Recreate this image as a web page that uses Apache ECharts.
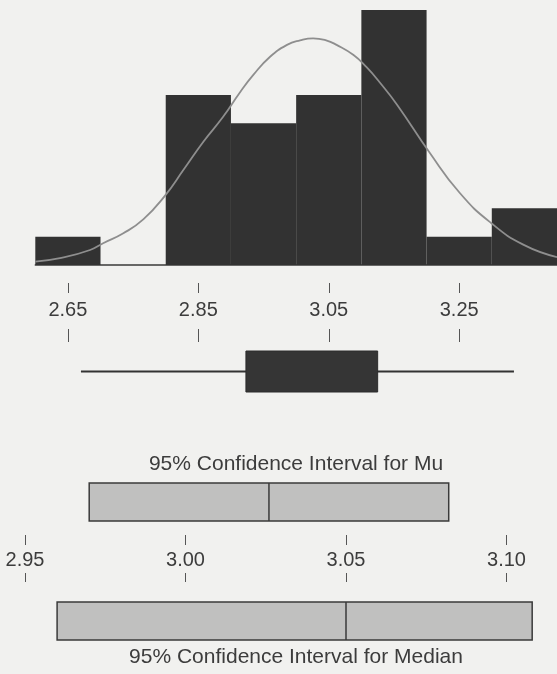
<!DOCTYPE html>
<html>
<head>
<meta charset="utf-8">
<script src="https://cdn.jsdelivr.net/npm/echarts@6/dist/echarts.min.js"></script>
<style>
  html, body { margin: 0; padding: 0; background: #f1f1ef; }
  #summary { width: 557px; height: 674px; }
</style>
</head>
<body>
<section id="summary"></section>
<script>
// histogram bins and counts
var binStarts = [2.6, 2.7, 2.8, 2.9, 3.0, 3.1, 3.2, 3.3]
var binEnds = [2.7, 2.8, 2.9, 3.0, 3.1, 3.2, 3.3, 3.4]
var binCounts = [1, 0, 6, 5, 6, 9, 1, 2]

// fitted normal curve
var curveX = [2.60, 2.64, 2.684, 2.704, 2.735, 2.766, 2.799, 2.827, 2.858, 2.888, 2.914, 2.934, 2.960, 2.986, 3.006, 3.026, 3.046, 3.062, 3.088, 3.108, 3.128, 3.155, 3.204, 3.251, 3.299, 3.349, 3.40]
var curveY = [0.12, 0.25, 0.53, 0.77, 1.12, 1.62, 2.45, 3.35, 4.36, 5.23, 6.10, 6.70, 7.35, 7.77, 7.93, 8.0, 7.93, 7.77, 7.41, 6.98, 6.45, 5.65, 3.99, 2.54, 1.48, 0.71, 0.28]

// boxplot: min, q1, median, q3, max
var boxStats = [2.670, 2.923, 3.050, 3.125, 3.334]

// confidence intervals: low, centre, high
var muCI = [2.970, 3.026, 3.082]
var medianCI = [2.960, 3.050, 3.108]

var topTicks = [2.65, 2.85, 3.05, 3.25]
var ciTicks = [2.95, 3.00, 3.05, 3.10]

var font = "'Liberation Sans', Arial, sans-serif"
var textColor = '#3c3c3c'

function fmt (v) {
  return Number(v).toFixed(2)
}

function renderBin (params, api) {
  var p0 = api.coord([api.value(0), api.value(2)])
  var p1 = api.coord([api.value(1), 0])
  return {
    type: 'rect',
    shape: { x: p0[0], y: p0[1], width: p1[0] - p0[0], height: p1[1] - p0[1] },
    style: { fill: '#323232' }
  }
}

function renderBox (params, api) {
  var lo = api.coord([api.value(0), 0])
  var q1 = api.coord([api.value(1), 1])
  var q3 = api.coord([api.value(3), 0])
  var hi = api.coord([api.value(4), 0])
  var mid = (lo[1] + q1[1]) / 2
  return {
    type: 'group',
    children: [
      { type: 'line', shape: { x1: lo[0], y1: mid, x2: hi[0], y2: mid }, style: { stroke: '#333', lineWidth: 2 } },
      { type: 'rect', shape: { x: q1[0], y: q1[1], width: q3[0] - q1[0], height: q3[1] - q1[1] }, style: { fill: '#353535', stroke: '#2c2c2c', lineWidth: 1 } }
    ]
  }
}

function renderCI (params, api) {
  var a = api.coord([api.value(0), 1])
  var c = api.coord([api.value(1), 0])
  var b = api.coord([api.value(2), 0])
  return {
    type: 'group',
    children: [
      { type: 'rect', shape: { x: a[0], y: a[1], width: b[0] - a[0], height: b[1] - a[1] }, style: { fill: '#c0c0bf', stroke: '#3a3a3a', lineWidth: 1.5 } },
      { type: 'line', shape: { x1: c[0], y1: a[1], x2: c[0], y2: b[1] }, style: { stroke: '#3a3a3a', lineWidth: 1.5 } }
    ]
  }
}

// axis used only for its ticks (and optionally labels); ticks point away from the grid
function tickAxis (grid, pos, ticks, len, min, max, withLabels, margin) {
  return {
    type: 'value',
    gridIndex: grid,
    position: pos,
    min: min,
    max: max,
    axisLine: { show: false, onZero: false },
    splitLine: { show: false },
    axisTick: { show: true, length: len, customValues: ticks, lineStyle: { color: '#555', width: 1 } },
    axisLabel: {
      show: withLabels,
      customValues: ticks,
      margin: margin,
      verticalAlign: 'middle',
      formatter: fmt,
      fontSize: 20,
      fontFamily: font,
      color: textColor
    }
  }
}

function hiddenY (grid, max) {
  return { type: 'value', gridIndex: grid, min: 0, max: max, show: false }
}

var chart = echarts.init(document.getElementById('summary'))

var histData = binStarts.map(function (s, i) {
  return [s, binEnds[i], binCounts[i]]
})
var curveData = curveX.map(function (x, i) {
  return [x, curveY[i]]
})

var option = {
  backgroundColor: '#f1f1ef',
  animation: false,
  title: [
    {
      text: '95% Confidence Interval for Mu',
      left: 296, top: 464, padding: 0,
      textAlign: 'center', textVerticalAlign: 'middle',
      textStyle: { fontSize: 21, fontWeight: 'normal', fontFamily: font, color: textColor }
    },
    {
      text: '95% Confidence Interval for Median',
      left: 296, top: 657, padding: 0,
      textAlign: 'center', textVerticalAlign: 'middle',
      textStyle: { fontSize: 21, fontWeight: 'normal', fontFamily: font, color: textColor }
    }
  ],
  grid: [
    { left: 35.3, right: 0, top: 10, height: 255 },
    { left: 35.3, right: 0, top: 270, height: 13 },
    { left: 35.3, right: 0, top: 342, height: 9 },
    { left: 35.3, right: 0, top: 351, height: 41 },
    { left: 25, right: 18.4, top: 483, height: 38 },
    { left: 25, right: 18.4, top: 525, height: 10 },
    { left: 25, right: 18.4, top: 582, height: 20 },
    { left: 25, right: 18.4, top: 602, height: 38 }
  ],
  xAxis: [
    {
      type: 'value', gridIndex: 0, min: 2.6, max: 3.4,
      axisLine: { show: true, onZero: false, lineStyle: { color: '#3a3a3a', width: 1.5 } },
      axisTick: { show: false }, axisLabel: { show: false }, splitLine: { show: false }
    },
    tickAxis(1, 'bottom', topTicks, 10, 2.6, 3.4, true, 27),
    tickAxis(2, 'top', topTicks, 13, 2.6, 3.4, false, 0),
    { type: 'value', gridIndex: 3, min: 2.6, max: 3.4, show: false },
    { type: 'value', gridIndex: 4, min: 2.95, max: 3.11, show: false },
    tickAxis(5, 'bottom', ciTicks, 10, 2.95, 3.11, true, 25),
    tickAxis(6, 'top', ciTicks, 9, 2.95, 3.11, false, 0),
    { type: 'value', gridIndex: 7, min: 2.95, max: 3.11, show: false }
  ],
  yAxis: [
    hiddenY(0, 9),
    hiddenY(1, 1),
    hiddenY(2, 1),
    hiddenY(3, 1),
    hiddenY(4, 1),
    hiddenY(5, 1),
    hiddenY(6, 1),
    hiddenY(7, 1)
  ],
  series: [
    {
      name: 'histogram',
      type: 'custom',
      xAxisIndex: 0,
      yAxisIndex: 0,
      renderItem: renderBin,
      encode: { x: [0, 1], y: 2 },
      data: histData,
      z: 2
    },
    {
      name: 'normal',
      type: 'line',
      xAxisIndex: 0,
      yAxisIndex: 0,
      smooth: 0.5,
      showSymbol: false,
      lineStyle: { color: '#8e8e8e', width: 1.8 },
      data: curveData,
      z: 3
    },
    {
      name: 'boxplot',
      type: 'custom',
      xAxisIndex: 3,
      yAxisIndex: 3,
      renderItem: renderBox,
      encode: { x: [0, 1, 2, 3, 4] },
      data: [boxStats]
    },
    {
      name: 'ci mu',
      type: 'custom',
      xAxisIndex: 4,
      yAxisIndex: 4,
      renderItem: renderCI,
      encode: { x: [0, 1, 2] },
      data: [muCI]
    },
    {
      name: 'ci median',
      type: 'custom',
      xAxisIndex: 7,
      yAxisIndex: 7,
      renderItem: renderCI,
      encode: { x: [0, 1, 2] },
      data: [medianCI]
    }
  ]
}

chart.setOption(option)
window.addEventListener('resize', function () {
  chart.resize()
})
</script>
</body>
</html>
